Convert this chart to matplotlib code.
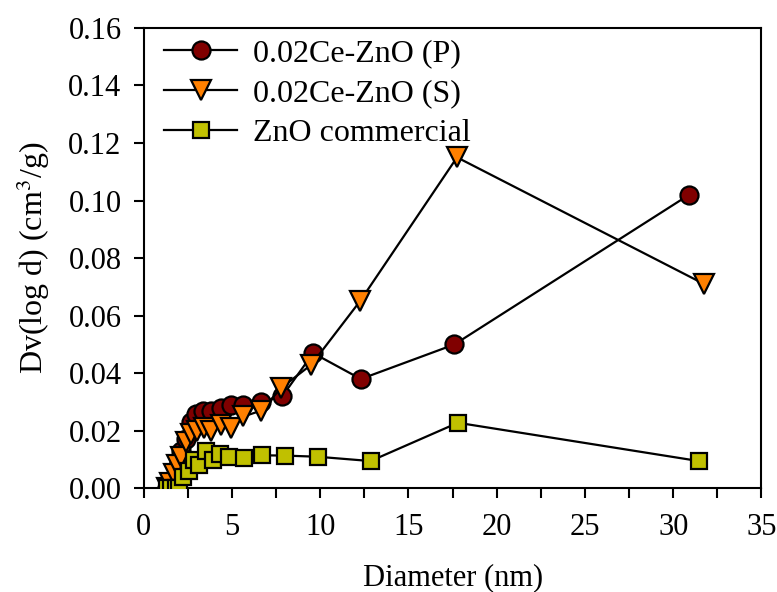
import numpy as np
import matplotlib
matplotlib.use("Agg")
import matplotlib.pyplot as plt
from matplotlib.ticker import MultipleLocator

# Datos (distribución de poros BJH)
diam_p = [1.3, 1.5, 1.7, 1.9, 2.1, 2.4, 2.65, 2.95, 3.35, 3.8, 4.35, 4.95, 5.65, 6.65, 7.85, 9.6, 12.3, 17.6, 30.9]
dv_p = [0.000, 0.001, 0.003, 0.007, 0.013, 0.017, 0.023, 0.026, 0.027, 0.027, 0.028, 0.029, 0.029, 0.030, 0.032, 0.047, 0.038, 0.050, 0.102]

diam_s = [1.3, 1.5, 1.7, 1.9, 2.1, 2.4, 2.65, 3.0, 3.4, 3.8, 4.35, 4.95, 5.65, 6.65, 7.8, 9.5, 12.25, 17.75, 31.75]
dv_s = [0.000, 0.002, 0.005, 0.008, 0.011, 0.016, 0.019, 0.020, 0.021, 0.020, 0.022, 0.021, 0.025, 0.027, 0.035, 0.043, 0.065, 0.115, 0.071]

diam_c = [1.3, 1.55, 1.8, 2.0, 2.25, 2.55, 2.85, 3.15, 3.5, 3.9, 4.3, 4.85, 5.7, 6.7, 8.0, 9.85, 12.85, 17.8, 31.45]
dv_c = [0.000, 0.000, 0.000, 0.000, 0.004, 0.006, 0.010, 0.008, 0.013, 0.010, 0.012, 0.011, 0.0105, 0.0115, 0.0114, 0.011, 0.0095, 0.0228, 0.0095]

labels = ['0.02Ce-ZnO (P)', '0.02Ce-ZnO (S)', 'ZnO commercial']

plt.rcParams['font.family'] = ['Liberation Serif', 'DejaVu Serif']
plt.rcParams['mathtext.fontset'] = 'stix'

fig = plt.figure(figsize=(7.77, 5.92), dpi=100)
ax = fig.add_axes([0.185, 0.175, 0.795, 0.778])

ax.plot(diam_p, dv_p, color='black', lw=1.6, marker='o', ms=13,
        mfc='#800000', mec='black', mew=1.6, label=labels[0], zorder=3)
ax.plot(diam_s, dv_s, color='black', lw=1.6, marker='v', ms=14,
        mfc='#FF8000', mec='black', mew=1.6, label=labels[1], zorder=3)
ax.plot(diam_c, dv_c, color='black', lw=1.6, marker='s', ms=12,
        mfc='#C0C000', mec='black', mew=1.6, label=labels[2], zorder=3)

ax.set_xlim(0, 35)
ax.set_ylim(0, 0.16)
ax.xaxis.set_major_locator(MultipleLocator(5))
ax.xaxis.set_minor_locator(MultipleLocator(2.5))
ax.yaxis.set_major_locator(MultipleLocator(0.02))
ax.yaxis.set_major_formatter(plt.FormatStrFormatter('%.2f'))

ax.tick_params(axis='both', which='both', direction='out', width=1.5, labelsize=22)
ax.tick_params(axis='both', which='major', length=7)
ax.tick_params(axis='x', which='minor', length=7)
ax.tick_params(axis='x', which='major', pad=11)
ax.tick_params(axis='y', which='major', pad=9)
for s in ax.spines.values():
    s.set_linewidth(1.5)

ax.set_xlabel('Diameter (nm)', fontsize=22, labelpad=15)
ax.set_ylabel('Dv(log d) (cm$^3$/g)', fontsize=23, labelpad=12)

ax.legend(loc='upper left', bbox_to_anchor=(0.012, 1.003), frameon=False, fontsize=23,
          handlelength=2.3, borderaxespad=0.0, labelspacing=0.32, handletextpad=0.5)

fig.savefig('out.png', dpi=100)
